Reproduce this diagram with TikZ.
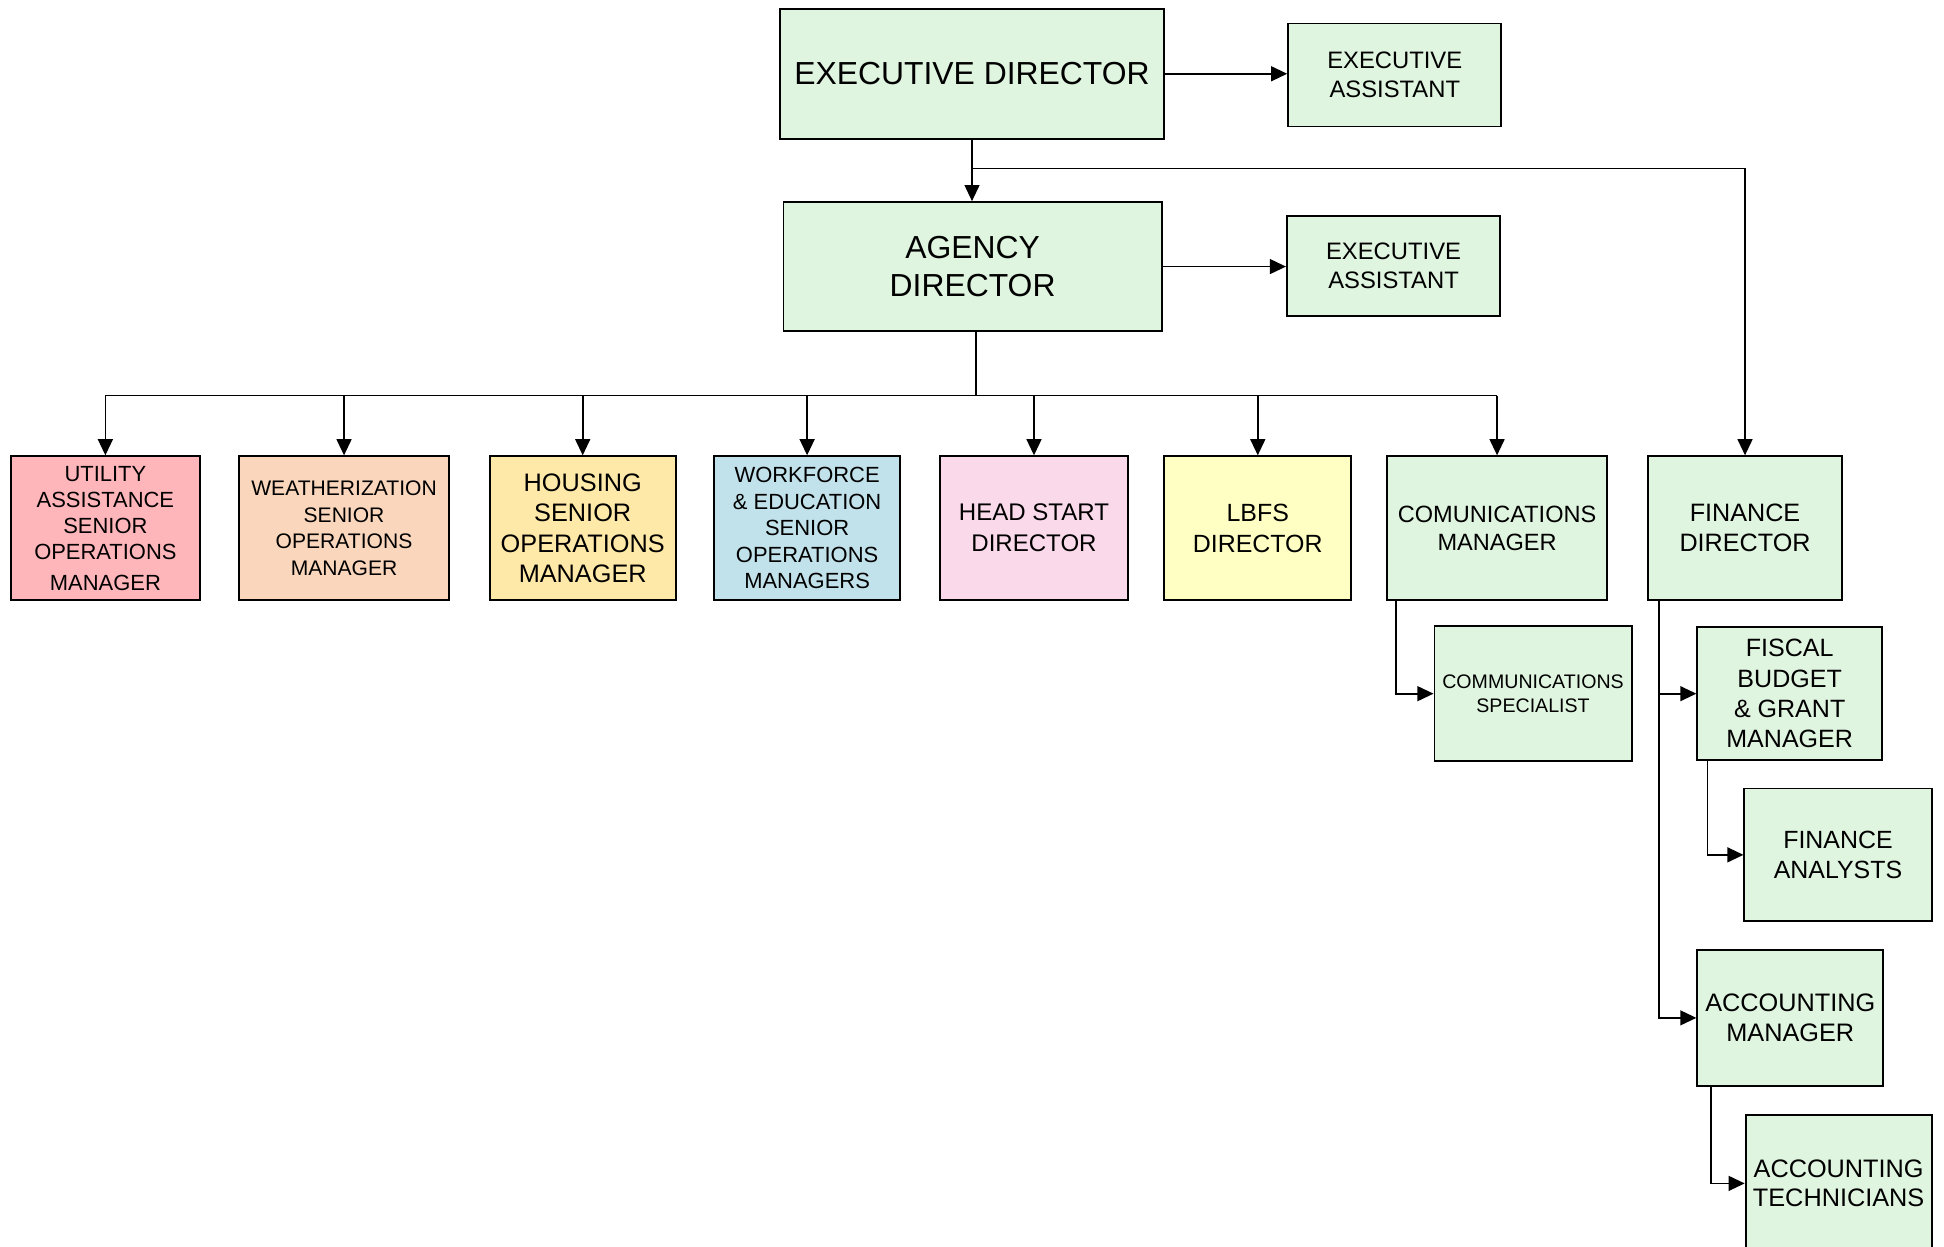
\documentclass[tikz,border=0pt]{standalone}
\usepackage{fontspec}
\setmainfont{Liberation Sans}
\usetikzlibrary{arrows.meta}
\definecolor{cgreen}{RGB}{224,245,224}
\definecolor{cpink}{RGB}{255,182,186}
\definecolor{cpeach}{RGB}{250,215,188}
\definecolor{chouse}{RGB}{255,233,168}
\definecolor{cblue}{RGB}{193,225,235}
\definecolor{chead}{RGB}{250,218,234}
\definecolor{clbfs}{RGB}{255,255,196}
\tikzset{
  box/.style={draw=black, line width=1.5pt, align=center, inner sep=0pt, fill=cgreen},
  conn/.style={draw=black, line width=1.4pt},
  arr/.style={conn, -{Triangle[length=13pt,width=12pt]}},
}
\newcommand{\fs}[2]{\fontsize{#1}{#2}\selectfont}
\begin{document}
\begin{tikzpicture}[x=1pt,y=-1pt]
\useasboundingbox (0,0) rectangle (1568,1005);
\clip (0,0) rectangle (1568,1005);
\fill[white] (0,0) rectangle (1568,1005);

% top levels
\node[box, minimum width=310, minimum height=105, font=\fs{25.7}{31}] (ED) at (784,59.5) {EXECUTIVE DIRECTOR};
\node[box, minimum width=172, minimum height=83, font=\fs{19.2}{23}] (EA1) at (1125,60.5) {EXECUTIVE\\ASSISTANT};
\node[box, minimum width=305, minimum height=104, font=\fs{25.7}{31}] (AD) at (784.5,215) {AGENCY\\DIRECTOR};
\node[box, minimum width=172, minimum height=81, font=\fs{19.2}{23}] (EA2) at (1124,214.5) {EXECUTIVE\\ASSISTANT};

% row
\node[box, fill=cpink, minimum width=152, minimum height=116, font=\fs{17.7}{21}] (UT) at (85,426) {UTILITY\\ASSISTANCE\\SENIOR\\OPERATIONS\\[4pt]MANAGER};
\node[box, fill=cpeach, minimum width=169, minimum height=116, font=\fs{17}{21.5}] (WE) at (277.5,426) {WEATHERIZATION\\SENIOR\\OPERATIONS\\MANAGER};
\node[box, fill=chouse, minimum width=150, minimum height=116, font=\fs{20.4}{24.5}] (HO) at (470,426) {HOUSING\\SENIOR\\OPERATIONS\\MANAGER};
\node[box, fill=cblue, minimum width=150, minimum height=116, font=\fs{17.7}{21.3}] (WF) at (651,426) {WORKFORCE\\\& EDUCATION\\SENIOR\\OPERATIONS\\MANAGERS};
\node[box, fill=chead, minimum width=152, minimum height=116, font=\fs{19.4}{25}] (HS) at (834,426) {HEAD START\\DIRECTOR};
\node[box, fill=clbfs, minimum width=151, minimum height=116, font=\fs{20.1}{25}] (LB) at (1014.5,426) {LBFS\\DIRECTOR};
\node[box, minimum width=177, minimum height=116, font=\fs{19}{23}] (CM) at (1207.5,426) {COMUNICATIONS\\MANAGER};
\node[box, minimum width=157, minimum height=116, font=\fs{20.3}{24}] (FD) at (1407.5,426) {FINANCE\\DIRECTOR};

% lower
\node[box, minimum width=159, minimum height=109, font=\fs{15.8}{19}] (CS) at (1236.5,559.5) {COMMUNICATIONS\\SPECIALIST};
\node[box, minimum width=149, minimum height=107, font=\fs{20.2}{24.5}] (FB) at (1443.5,559.5) {FISCAL\\BUDGET\\\& GRANT\\MANAGER};
\node[box, minimum width=151, minimum height=107, font=\fs{20.1}{24}] (FA) at (1482.5,689.5) {FINANCE\\ANALYSTS};
\node[box, minimum width=150, minimum height=110, font=\fs{20.4}{24}] (AM) at (1444,821) {ACCOUNTING\\MANAGER};
\node[box, minimum width=150, minimum height=111, font=\fs{20.4}{24}] (AT) at (1483,954.5) {ACCOUNTING\\TECHNICIANS};

% connectors
\draw[arr] (ED.east) -- (ED.east -| EA1.west);
\draw[arr] (ED.south) -- (ED.south |- AD.north);
\coordinate (b1) at (784,136);
\draw[arr] (b1) -| (FD.north);
\draw[arr] (AD.east) -- (AD.east -| EA2.west);

\coordinate (bus) at (787,319);
\draw[conn] (AD.south -| bus) -- (bus);
\draw[conn] (bus -| UT.north) -- (bus -| CM.north);
\foreach \n in {UT,WE,HO,WF,HS,LB,CM}{
  \draw[arr] (bus -| \n.north) -- (\n.north);
}

\draw[arr] ([xshift=8pt]CM.south west) |- (CS.west);
\draw[arr] ([xshift=10pt]FD.south west) |- (FB.west);
\draw[arr] ([xshift=10pt]FD.south west) |- (AM.west);
\draw[arr] ([xshift=9pt]FB.south west) |- (FA.west);
\draw[arr] ([xshift=12pt]AM.south west) |- (AT.west);
\end{tikzpicture}
\end{document}
